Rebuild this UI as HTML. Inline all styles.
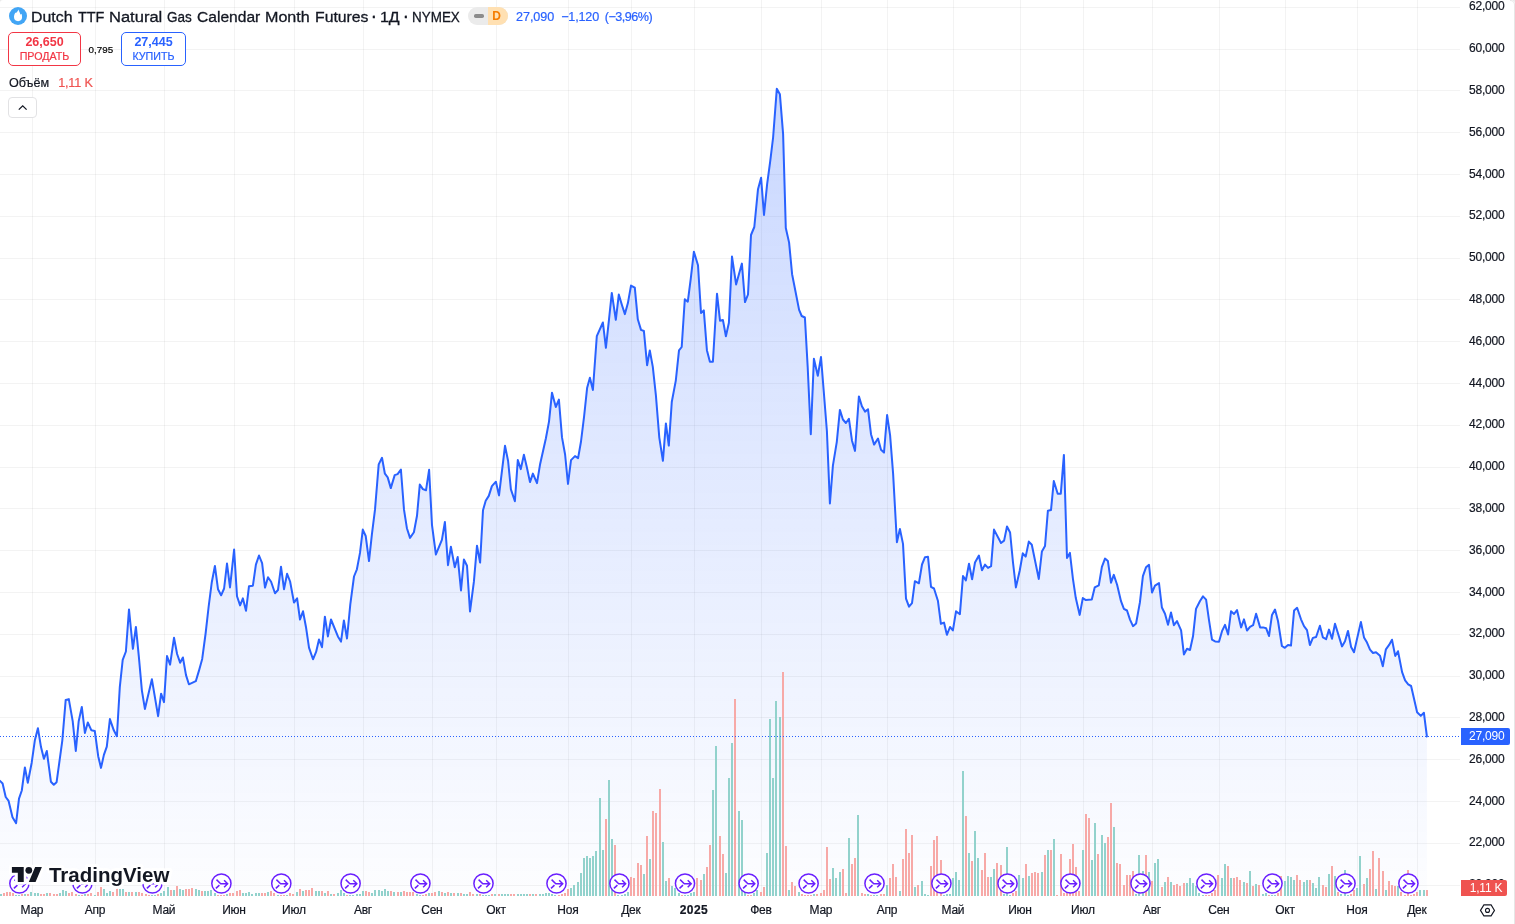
<!DOCTYPE html>
<html lang="ru"><head><meta charset="utf-8"><title>Dutch TTF Natural Gas Calendar Month Futures</title>
<style>
html,body{margin:0;padding:0;background:#fff;}
body{width:1515px;height:924px;position:relative;overflow:hidden;font-family:"Liberation Sans","DejaVu Sans",sans-serif;color:#131722;}
svg{position:absolute;left:0;top:0;}
svg text{font-family:"Liberation Sans","DejaVu Sans",sans-serif;}
#wrap{position:absolute;left:0;top:0;width:1515px;height:924px;will-change:transform;}
.abs{position:absolute;white-space:nowrap;}
.title span{position:absolute;top:0;transform-origin:0 0;}
.title{-webkit-text-stroke:0.3px #131722;left:0;top:7.8px;height:18px;line-height:18px;font-size:15.3px;color:#131722;}
.vals{-webkit-text-stroke:0.2px;top:8.3px;height:18px;line-height:18px;font-size:12.6px;color:#2962ff;}
.badge{left:468px;top:7px;width:40px;height:18px;border-radius:9px;overflow:hidden;background:#ebebeb;}
.badge i{position:absolute;left:6px;top:7.3px;width:10px;height:3.5px;border-radius:1.75px;background:#8c8c8c;}
.badge b{position:absolute;left:20px;top:0;width:20px;height:18px;background:#ffe0b2;color:#f57c00;font-size:12px;line-height:18px;text-align:center;font-weight:bold;text-indent:-3px;}
.btn{box-sizing:border-box;height:34px;border:1px solid;border-radius:5px;text-align:center;background:#fff;}
.btn span{display:block;}
.btn .p{font-size:12.5px;font-weight:bold;line-height:14px;margin-top:1.8px;}
.btn .l{-webkit-text-stroke:0.2px;font-size:10.7px;line-height:12px;margin-top:1.6px;}
.sell{left:8px;top:32px;width:73px;border-color:#f23645;color:#f23645;}
.buy{left:121px;top:32px;width:65px;border-color:#2962ff;color:#2962ff;}
.spread{-webkit-text-stroke:0.2px;left:88.6px;top:43.5px;font-size:9.8px;line-height:12px;color:#000;}
.vol{-webkit-text-stroke:0.2px;left:9px;top:74.8px;font-size:12.6px;line-height:16px;}
.vol em{font-style:normal;color:#ef5350;margin-left:9px;letter-spacing:-0.15px;}
.collapse{left:8px;top:97px;width:29px;height:21px;box-sizing:border-box;border:1px solid #e2e2e4;border-radius:4px;background:#fff;}
</style></head><body><div id="wrap">
<svg width="1515" height="924" viewBox="0 0 1515 924">
<defs>
<linearGradient id="ag" x1="0" y1="0" x2="0" y2="896" gradientUnits="userSpaceOnUse">
<stop offset="0" stop-color="#2962ff" stop-opacity="0.28"/><stop offset="1" stop-color="#2962ff" stop-opacity="0.01"/></linearGradient>
<g id="ro"><circle r="9.6" fill="#fff" stroke="#6a1fff" stroke-width="1.5"/>
<path d="M-4.9 -3.9L-0.7 0.2H6M2.7 -3.2L6.2 0.2L2.7 3.7" fill="none" stroke="#6a1fff" stroke-width="1.5"/>
<path d="M-2 1.6L-5.5 4.9" fill="none" stroke="#6a1fff" stroke-width="1.5"/></g>
</defs>
<path d="M0 7.5H1460M0 49.5H1460M0 90.5H1460M0 132.5H1460M0 174.5H1460M0 216.5H1460M0 258.5H1460M0 299.5H1460M0 341.5H1460M0 383.5H1460M0 425.5H1460M0 467.5H1460M0 508.5H1460M0 550.5H1460M0 592.5H1460M0 634.5H1460M0 676.5H1460M0 717.5H1460M0 759.5H1460M0 801.5H1460M0 843.5H1460M0 885.5H1460" stroke="#000" stroke-opacity="0.047" stroke-width="1" fill="none"/>
<path d="M32.5 0V896M95.5 0V896M164.5 0V896M234.5 0V896M294.5 0V896M363.5 0V896M432.5 0V896M496.5 0V896M568.5 0V896M631.5 0V896M694.5 0V896M761.5 0V896M821.5 0V896M887.5 0V896M953.5 0V896M1020.5 0V896M1083.5 0V896M1152.5 0V896M1219.5 0V896M1285.5 0V896M1357.5 0V896M1417.5 0V896" stroke="#000" stroke-opacity="0.047" stroke-width="1" fill="none"/>
<path d="M0 780.9 L2.6 783.5 L5.7 797 L8.6 800.9 L12.5 817.3 L16.1 823.2 L19 798.6 L21.8 790.5 L24.9 767.4 L27.8 782.7 L31.7 762.7 L34.8 740.6 L37.9 728.2 L41 747.1 L43.9 758.8 L46.8 751 L50.9 781.7 L53.8 784.8 L56.6 782.2 L62.3 740.6 L65.7 699.9 L68.8 699.1 L72.7 721.2 L75.8 751 L78.7 721.2 L81.8 706.9 L84.9 732.9 L87.8 722.5 L91.4 730.3 L94.8 731 L98.2 756.2 L101 767.9 L103.9 754.9 L106.8 746.6 L109.9 719.1 L113.8 730.3 L116.9 736.2 L119.8 687.1 L122.7 659.9 L125.9 651.5 L129 609.4 L132.9 648.8 L135.9 626.9 L138.8 656.1 L141.9 690.6 L144.9 708.9 L151.9 679.3 L158.1 716.2 L161.1 693.7 L164 702.1 L167 656.1 L170.1 664.6 L174 637.8 L177.1 654 L180.1 662.7 L182.9 657.5 L186 675.1 L188.9 684.3 L195.8 681.2 L198.9 670.9 L202.2 658.9 L205.6 633.5 L208.6 607 L211.8 582.2 L214.9 566 L218 589.2 L221.1 595.3 L224.1 588.5 L227 563.5 L230 587.4 L234.1 549.6 L237 596.3 L240.1 605.4 L242.9 598.4 L246 610.8 L249 586.2 L252.9 585.7 L255.9 564.6 L259 555.5 L262.1 563.2 L265 587.6 L268 577.3 L271.1 581.8 L275 593.2 L278 590 L281 566.7 L284 589.2 L287.1 573.8 L290.1 581.5 L294 602.6 L297.1 598.4 L300 619.5 L303 611.3 L306 627.2 L309 647.6 L313 659.3 L316.1 651.9 L319 639.5 L322 647.2 L324.9 616.7 L327.9 636.4 L331 619.5 L337.9 636.4 L341 641.6 L343.9 620.5 L347 638.5 L350.3 604.3 L354 576.5 L356.9 569.3 L360 552.9 L362.8 529.6 L365.7 536 L369 561.1 L371.9 534.4 L375 509.7 L378.7 464.4 L382 457.8 L384.9 473.7 L387.7 477.4 L390.8 488.1 L394.7 475.1 L397.6 474.1 L400.9 469.5 L404 509.7 L406.9 528.2 L410 537.9 L413.9 532.3 L417 515.8 L419.8 484.6 L422.9 489.1 L426 490.3 L429.1 469.8 L432 525.1 L435.9 554.5 L438.8 547.3 L441.9 539.9 L444.9 522 L448 565.2 L450.9 546.7 L454.8 567.3 L457.7 557 L461 590.5 L463.9 559.5 L467 565.8 L470 611.5 L473.9 581.7 L477 545.7 L480.1 562.6 L483 510.3 L485.7 500.7 L488.8 495.9 L491.9 486.1 L495.9 481.7 L499 495.4 L505 445.8 L508.1 461 L510.9 489.4 L514.9 501.2 L517.8 460.1 L520.8 469.1 L523.9 454.8 L526.9 467.5 L530 482.1 L532.9 473.6 L537 483.2 L540.1 464.2 L545.9 438.2 L549 421.6 L552 392.7 L555.8 407 L558.9 399.6 L562 437.4 L565.1 454.5 L568 484 L571 460.1 L575 456.1 L578.1 458.2 L581 441.5 L584.1 416.3 L587.1 388.1 L589.9 377.7 L592.9 390 L596.8 336.2 L602.9 322.5 L605.9 347.8 L608.9 320.4 L611.8 292.9 L615.8 319.8 L618.8 294.6 L622 305.2 L624.9 314.1 L627.9 303.1 L631 285.6 L634.8 287.7 L637.8 319.3 L641 329.9 L643.9 331 L647.1 365.2 L649.8 350.4 L652.8 366.9 L655.9 395.4 L659.3 437.6 L662.9 460.8 L665.9 423.4 L668.8 445.6 L671.8 401.7 L675.8 380.6 L679 350.4 L681.7 347 L684.8 299.3 L687.8 301.7 L690.8 278.3 L693.9 251.7 L698 265.3 L701 313 L703.8 310.4 L706.9 350.2 L709.9 361.7 L712.9 361.7 L717 293.7 L720 320.7 L722.9 319.9 L725.9 336.3 L728.9 322.7 L732 256.6 L736.1 284.4 L741.9 263.6 L745 302.1 L748 294.5 L751 235 L754.3 227 L758 189.2 L761.1 177.8 L764 215 L767.1 184.3 L770.2 161.4 L773.1 137.5 L776.8 88.8 L779.9 94.3 L783.1 133.9 L785.8 228 L789.1 242.6 L792.1 274.2 L799.1 309.9 L801.7 316 L804.9 317.5 L807.7 367.3 L810.8 434.2 L813.9 358.7 L817.8 375.8 L821 357 L823.8 392 L826.9 431 L829.9 503.5 L832.9 465.6 L836.8 441.8 L839.9 409.9 L842.9 419.5 L845.9 423 L848.9 418.7 L852 440.7 L855 450.9 L858.9 396.4 L861.9 406.2 L865 411.6 L868 409.2 L871 434.2 L874.1 444.6 L878 438.5 L881 449.8 L884 452.6 L887.1 415 L890.1 435.3 L893.1 473.6 L896.9 542.2 L899.9 528.9 L903 543.9 L906 598.6 L909 606.7 L912 603.1 L914.9 581.2 L918.9 583.3 L922 564.5 L925 557.2 L928 556.8 L931 586.9 L934 588.5 L937.9 600.7 L940.9 623.8 L944 622.6 L946.9 634.8 L950 627 L952.9 630.4 L956 611.3 L959.9 614.2 L963 576 L965.9 580.4 L969 563.8 L972.1 579.3 L975 562.5 L978.9 555.5 L982 570.2 L985 564.6 L988 567.9 L991.1 566.1 L994 529.6 L1001 543 L1004.1 540.6 L1007 526.5 L1010.1 532.5 L1013 562.5 L1015.9 587.4 L1019.7 570.7 L1022.8 553.3 L1025.7 556.6 L1028.8 541.6 L1031.8 544.7 L1038.8 579 L1041.9 551.4 L1045 546.1 L1047.9 510.7 L1051 510.1 L1053.8 481 L1057.7 493.7 L1060.8 493.7 L1063.9 454.9 L1067 558 L1069.9 552.9 L1072.9 578.6 L1075.8 598.1 L1079.7 614.9 L1082.8 598.1 L1085.9 600.1 L1091.8 599.5 L1094.7 587.4 L1098.8 585.3 L1101.9 566.8 L1105 558.6 L1107.9 561.1 L1111 582.7 L1113.8 574.9 L1117.1 584.7 L1121 601.2 L1123.9 608.8 L1127 610.5 L1130 619.6 L1133 626.2 L1136.1 623.5 L1139.9 602.4 L1142.9 576.2 L1146 567.3 L1149 564.9 L1152 592.5 L1155 585.7 L1159 583.1 L1161.9 607.5 L1165 613.7 L1168 624.8 L1171 612.5 L1173.9 625.2 L1177 621.1 L1181.1 630.4 L1183.9 654.4 L1187 648.8 L1190 650 L1193 636.3 L1196 608.9 L1200 601 L1203 596.4 L1206.1 599.6 L1209 620.2 L1212 639.6 L1215.1 641.4 L1219 641.7 L1222 631.2 L1225 624.8 L1228.1 634.5 L1231 611.3 L1234 614 L1237 610.1 L1241.1 627.4 L1244 619.4 L1247 630.6 L1250 626.8 L1253.1 625.2 L1256.1 613.7 L1260.1 627.4 L1263.1 627.4 L1266.1 628.2 L1269 636 L1272 614.9 L1275 609.6 L1278 621 L1281.9 646 L1284.8 647.8 L1288 645.1 L1291 645.5 L1294.1 610.4 L1297.1 607.8 L1301 619.3 L1304 626.2 L1307 630.1 L1309.9 645 L1312.9 637.9 L1316.1 637 L1319.9 625.7 L1322.9 637.4 L1326.1 639.2 L1329 629.6 L1332 638.7 L1335 623.8 L1342 646.4 L1345 641.3 L1348 630.9 L1351.1 647 L1354 652.2 L1360.9 621.9 L1364 637.4 L1367 642.6 L1370 649.7 L1373 653 L1376 652.3 L1380 655.8 L1382.8 666.3 L1385.9 649.3 L1389.1 644.9 L1392 639.7 L1395.2 655.9 L1398 651.2 L1402.1 672.1 L1405.1 680.4 L1408.2 684.4 L1411.1 686 L1417.1 712.2 L1420.8 715.9 L1423.9 712.8 L1426.9 736.5 L1426.9 896 L0 896Z" fill="url(#ag)"/>
<path d="M0 894h2v2h-2zM15 895h2v1h-2zM18 895h2v1h-2zM24 894h2v2h-2zM30 892h2v4h-2zM34 893h2v3h-2zM37 893h2v3h-2zM46 893h2v3h-2zM59 893h2v3h-2zM62 890h2v6h-2zM65 891h2v5h-2zM78 895h2v1h-2zM84 894h2v2h-2zM94 895h2v1h-2zM103 889h2v7h-2zM106 893h2v3h-2zM109 891h2v5h-2zM119 889h2v7h-2zM122 889h2v7h-2zM128 892h2v4h-2zM135 892h2v4h-2zM151 895h2v1h-2zM154 895h2v1h-2zM160 893h2v3h-2zM163 891h2v5h-2zM167 887h2v9h-2zM173 890h2v6h-2zM179 889h2v7h-2zM182 890h2v6h-2zM195 889h2v7h-2zM198 890h2v6h-2zM204 891h2v5h-2zM207 891h2v5h-2zM210 890h2v6h-2zM214 893h2v3h-2zM226 894h2v2h-2zM242 893h2v3h-2zM245 893h2v3h-2zM248 892h2v4h-2zM251 894h2v2h-2zM255 893h2v3h-2zM258 893h2v3h-2zM267 892h2v4h-2zM277 895h2v1h-2zM286 895h2v1h-2zM296 892h2v4h-2zM302 891h2v5h-2zM315 891h2v5h-2zM318 891h2v5h-2zM324 893h2v3h-2zM330 894h2v2h-2zM337 893h2v3h-2zM340 890h2v6h-2zM343 893h2v3h-2zM349 895h2v1h-2zM352 895h2v1h-2zM356 894h2v2h-2zM359 894h2v2h-2zM362 891h2v5h-2zM371 893h2v3h-2zM374 890h2v6h-2zM378 890h2v6h-2zM381 891h2v5h-2zM384 889h2v7h-2zM387 891h2v5h-2zM393 892h2v4h-2zM400 892h2v4h-2zM416 894h2v2h-2zM419 895h2v1h-2zM428 893h2v3h-2zM438 891h2v5h-2zM444 893h2v3h-2zM450 893h2v3h-2zM457 893h2v3h-2zM463 894h2v2h-2zM466 894h2v2h-2zM476 894h2v2h-2zM482 895h2v1h-2zM485 895h2v1h-2zM488 895h2v1h-2zM494 894h2v2h-2zM501 894h2v2h-2zM504 894h2v2h-2zM507 894h2v2h-2zM517 894h2v2h-2zM520 894h2v2h-2zM523 894h2v2h-2zM526 894h2v2h-2zM532 894h2v2h-2zM539 894h2v2h-2zM542 894h2v2h-2zM545 893h2v3h-2zM548 893h2v3h-2zM551 894h2v2h-2zM554 895h2v1h-2zM570 888h2v8h-2zM573 885h2v11h-2zM577 882h2v14h-2zM580 873h2v23h-2zM583 858h2v38h-2zM586 856h2v40h-2zM589 858h2v38h-2zM592 856h2v40h-2zM595 851h2v45h-2zM599 798h2v98h-2zM602 850h2v46h-2zM608 780h2v116h-2zM611 839h2v57h-2zM617 895h2v1h-2zM621 895h2v1h-2zM624 894h2v2h-2zM627 892h2v4h-2zM643 874h2v22h-2zM649 859h2v37h-2zM662 842h2v54h-2zM665 881h2v15h-2zM671 886h2v10h-2zM674 888h2v8h-2zM678 893h2v3h-2zM684 895h2v1h-2zM687 895h2v1h-2zM690 893h2v3h-2zM693 892h2v4h-2zM703 874h2v22h-2zM712 790h2v106h-2zM715 746h2v150h-2zM725 873h2v23h-2zM728 778h2v118h-2zM731 743h2v153h-2zM738 811h2v85h-2zM741 820h2v76h-2zM744 892h2v4h-2zM753 893h2v3h-2zM756 890h2v6h-2zM766 853h2v43h-2zM769 719h2v177h-2zM772 778h2v118h-2zM775 701h2v195h-2zM779 717h2v179h-2zM788 890h2v6h-2zM798 892h2v4h-2zM813 894h2v2h-2zM832 868h2v28h-2zM835 878h2v18h-2zM839 872h2v24h-2zM848 838h2v58h-2zM857 815h2v81h-2zM867 894h2v2h-2zM873 895h2v1h-2zM876 895h2v1h-2zM886 885h2v11h-2zM899 891h2v5h-2zM914 887h2v9h-2zM921 881h2v15h-2zM924 894h2v2h-2zM927 895h2v1h-2zM943 895h2v1h-2zM946 894h2v2h-2zM949 894h2v2h-2zM952 878h2v18h-2zM955 872h2v24h-2zM958 880h2v16h-2zM962 771h2v125h-2zM968 853h2v43h-2zM974 831h2v65h-2zM977 858h2v38h-2zM990 877h2v19h-2zM993 869h2v27h-2zM1003 894h2v2h-2zM1006 847h2v49h-2zM1009 895h2v1h-2zM1018 875h2v21h-2zM1022 878h2v18h-2zM1028 876h2v20h-2zM1041 872h2v24h-2zM1047 850h2v46h-2zM1053 839h2v57h-2zM1082 850h2v46h-2zM1091 860h2v36h-2zM1094 823h2v73h-2zM1101 835h2v61h-2zM1104 843h2v53h-2zM1113 827h2v69h-2zM1135 894h2v2h-2zM1138 855h2v41h-2zM1142 871h2v25h-2zM1148 872h2v24h-2zM1154 863h2v33h-2zM1157 859h2v37h-2zM1164 882h2v14h-2zM1170 882h2v14h-2zM1186 883h2v13h-2zM1189 878h2v18h-2zM1192 883h2v13h-2zM1195 886h2v10h-2zM1198 893h2v3h-2zM1202 895h2v1h-2zM1221 878h2v18h-2zM1224 864h2v32h-2zM1230 878h2v18h-2zM1243 882h2v14h-2zM1249 871h2v25h-2zM1255 884h2v12h-2zM1262 894h2v2h-2zM1265 893h2v3h-2zM1271 895h2v1h-2zM1274 895h2v1h-2zM1284 881h2v15h-2zM1287 876h2v20h-2zM1290 877h2v19h-2zM1293 880h2v16h-2zM1303 882h2v14h-2zM1306 880h2v16h-2zM1312 883h2v13h-2zM1315 888h2v8h-2zM1318 877h2v19h-2zM1328 874h2v22h-2zM1334 876h2v20h-2zM1340 894h2v2h-2zM1344 870h2v26h-2zM1347 895h2v1h-2zM1356 888h2v8h-2zM1359 856h2v40h-2zM1366 878h2v18h-2zM1375 889h2v7h-2zM1385 890h2v6h-2zM1397 886h2v10h-2zM1419 890h2v6h-2zM1423 890h2v6h-2z" fill="#92d2cc"/>
<path d="M3 893h2v3h-2zM6 892h2v4h-2zM9 892h2v4h-2zM12 893h2v3h-2zM21 894h2v2h-2zM27 894h2v2h-2zM40 894h2v2h-2zM43 894h2v2h-2zM49 893h2v3h-2zM53 894h2v2h-2zM56 894h2v2h-2zM68 893h2v3h-2zM71 892h2v4h-2zM75 894h2v2h-2zM81 895h2v1h-2zM87 894h2v2h-2zM90 893h2v3h-2zM97 892h2v4h-2zM100 887h2v9h-2zM112 892h2v4h-2zM116 888h2v8h-2zM125 892h2v4h-2zM131 892h2v4h-2zM138 892h2v4h-2zM141 893h2v3h-2zM145 894h2v2h-2zM148 895h2v1h-2zM157 894h2v2h-2zM170 890h2v6h-2zM176 886h2v10h-2zM185 889h2v7h-2zM188 889h2v7h-2zM191 888h2v8h-2zM201 891h2v5h-2zM217 895h2v1h-2zM220 895h2v1h-2zM223 895h2v1h-2zM229 893h2v3h-2zM232 893h2v3h-2zM236 891h2v5h-2zM239 890h2v6h-2zM261 893h2v3h-2zM264 893h2v3h-2zM270 891h2v5h-2zM273 893h2v3h-2zM280 895h2v1h-2zM283 895h2v1h-2zM289 893h2v3h-2zM292 894h2v2h-2zM299 889h2v7h-2zM305 890h2v6h-2zM308 890h2v6h-2zM311 888h2v8h-2zM321 891h2v5h-2zM327 891h2v5h-2zM333 894h2v2h-2zM346 895h2v1h-2zM365 891h2v5h-2zM368 892h2v4h-2zM390 891h2v5h-2zM397 892h2v4h-2zM403 891h2v5h-2zM406 892h2v4h-2zM409 892h2v4h-2zM412 892h2v4h-2zM422 895h2v1h-2zM425 894h2v2h-2zM431 893h2v3h-2zM434 892h2v4h-2zM441 892h2v4h-2zM447 892h2v4h-2zM453 893h2v3h-2zM460 893h2v3h-2zM469 892h2v4h-2zM472 894h2v2h-2zM479 894h2v2h-2zM491 894h2v2h-2zM498 894h2v2h-2zM510 894h2v2h-2zM513 894h2v2h-2zM529 894h2v2h-2zM535 894h2v2h-2zM558 895h2v1h-2zM561 894h2v2h-2zM564 893h2v3h-2zM567 889h2v7h-2zM605 819h2v77h-2zM614 845h2v51h-2zM630 877h2v19h-2zM633 878h2v18h-2zM637 863h2v33h-2zM640 865h2v31h-2zM646 836h2v60h-2zM652 811h2v85h-2zM655 813h2v83h-2zM659 789h2v107h-2zM668 878h2v18h-2zM681 895h2v1h-2zM696 878h2v18h-2zM700 880h2v16h-2zM706 867h2v29h-2zM709 845h2v51h-2zM719 836h2v60h-2zM722 854h2v42h-2zM734 699h2v197h-2zM747 895h2v1h-2zM750 895h2v1h-2zM760 892h2v4h-2zM763 887h2v9h-2zM782 672h2v224h-2zM785 846h2v50h-2zM791 882h2v14h-2zM794 886h2v10h-2zM801 894h2v2h-2zM804 895h2v1h-2zM807 895h2v1h-2zM810 895h2v1h-2zM816 894h2v2h-2zM820 893h2v3h-2zM823 890h2v6h-2zM826 847h2v49h-2zM829 879h2v17h-2zM842 869h2v27h-2zM845 893h2v3h-2zM851 864h2v32h-2zM854 858h2v38h-2zM861 893h2v3h-2zM864 894h2v2h-2zM870 895h2v1h-2zM880 894h2v2h-2zM883 894h2v2h-2zM889 878h2v18h-2zM892 864h2v32h-2zM895 877h2v19h-2zM902 859h2v37h-2zM905 829h2v67h-2zM908 853h2v43h-2zM911 835h2v61h-2zM917 885h2v11h-2zM930 866h2v30h-2zM933 840h2v56h-2zM936 836h2v60h-2zM940 860h2v36h-2zM965 816h2v80h-2zM971 861h2v35h-2zM981 870h2v26h-2zM984 853h2v43h-2zM987 877h2v19h-2zM996 863h2v33h-2zM1000 865h2v31h-2zM1012 893h2v3h-2zM1015 891h2v5h-2zM1025 864h2v32h-2zM1031 873h2v23h-2zM1034 872h2v24h-2zM1037 873h2v23h-2zM1044 855h2v41h-2zM1050 850h2v46h-2zM1056 895h2v1h-2zM1060 854h2v42h-2zM1063 893h2v3h-2zM1066 893h2v3h-2zM1069 859h2v37h-2zM1072 844h2v52h-2zM1075 867h2v29h-2zM1078 891h2v5h-2zM1085 814h2v82h-2zM1088 818h2v78h-2zM1097 854h2v42h-2zM1107 837h2v59h-2zM1110 803h2v93h-2zM1116 863h2v33h-2zM1119 864h2v32h-2zM1123 885h2v11h-2zM1126 875h2v21h-2zM1129 875h2v21h-2zM1132 871h2v25h-2zM1145 855h2v41h-2zM1151 881h2v15h-2zM1161 887h2v9h-2zM1167 877h2v19h-2zM1173 885h2v11h-2zM1176 884h2v12h-2zM1179 886h2v10h-2zM1183 883h2v13h-2zM1205 895h2v1h-2zM1208 895h2v1h-2zM1211 893h2v3h-2zM1214 890h2v6h-2zM1217 875h2v21h-2zM1227 866h2v30h-2zM1233 878h2v18h-2zM1236 877h2v19h-2zM1239 880h2v16h-2zM1246 883h2v13h-2zM1252 886h2v10h-2zM1258 885h2v11h-2zM1268 895h2v1h-2zM1277 893h2v3h-2zM1280 876h2v20h-2zM1296 875h2v21h-2zM1299 880h2v16h-2zM1309 880h2v16h-2zM1322 885h2v11h-2zM1325 887h2v9h-2zM1331 866h2v30h-2zM1337 892h2v4h-2zM1350 894h2v2h-2zM1353 890h2v6h-2zM1363 884h2v12h-2zM1369 869h2v27h-2zM1372 851h2v45h-2zM1378 858h2v38h-2zM1382 871h2v25h-2zM1388 881h2v15h-2zM1391 885h2v11h-2zM1394 886h2v10h-2zM1400 892h2v4h-2zM1404 895h2v1h-2zM1407 870h2v26h-2zM1410 895h2v1h-2zM1413 894h2v2h-2zM1416 892h2v4h-2zM1426 890h2v6h-2z" fill="#f7a9a7"/>
<path d="M0 780.9 L2.6 783.5 L5.7 797 L8.6 800.9 L12.5 817.3 L16.1 823.2 L19 798.6 L21.8 790.5 L24.9 767.4 L27.8 782.7 L31.7 762.7 L34.8 740.6 L37.9 728.2 L41 747.1 L43.9 758.8 L46.8 751 L50.9 781.7 L53.8 784.8 L56.6 782.2 L62.3 740.6 L65.7 699.9 L68.8 699.1 L72.7 721.2 L75.8 751 L78.7 721.2 L81.8 706.9 L84.9 732.9 L87.8 722.5 L91.4 730.3 L94.8 731 L98.2 756.2 L101 767.9 L103.9 754.9 L106.8 746.6 L109.9 719.1 L113.8 730.3 L116.9 736.2 L119.8 687.1 L122.7 659.9 L125.9 651.5 L129 609.4 L132.9 648.8 L135.9 626.9 L138.8 656.1 L141.9 690.6 L144.9 708.9 L151.9 679.3 L158.1 716.2 L161.1 693.7 L164 702.1 L167 656.1 L170.1 664.6 L174 637.8 L177.1 654 L180.1 662.7 L182.9 657.5 L186 675.1 L188.9 684.3 L195.8 681.2 L198.9 670.9 L202.2 658.9 L205.6 633.5 L208.6 607 L211.8 582.2 L214.9 566 L218 589.2 L221.1 595.3 L224.1 588.5 L227 563.5 L230 587.4 L234.1 549.6 L237 596.3 L240.1 605.4 L242.9 598.4 L246 610.8 L249 586.2 L252.9 585.7 L255.9 564.6 L259 555.5 L262.1 563.2 L265 587.6 L268 577.3 L271.1 581.8 L275 593.2 L278 590 L281 566.7 L284 589.2 L287.1 573.8 L290.1 581.5 L294 602.6 L297.1 598.4 L300 619.5 L303 611.3 L306 627.2 L309 647.6 L313 659.3 L316.1 651.9 L319 639.5 L322 647.2 L324.9 616.7 L327.9 636.4 L331 619.5 L337.9 636.4 L341 641.6 L343.9 620.5 L347 638.5 L350.3 604.3 L354 576.5 L356.9 569.3 L360 552.9 L362.8 529.6 L365.7 536 L369 561.1 L371.9 534.4 L375 509.7 L378.7 464.4 L382 457.8 L384.9 473.7 L387.7 477.4 L390.8 488.1 L394.7 475.1 L397.6 474.1 L400.9 469.5 L404 509.7 L406.9 528.2 L410 537.9 L413.9 532.3 L417 515.8 L419.8 484.6 L422.9 489.1 L426 490.3 L429.1 469.8 L432 525.1 L435.9 554.5 L438.8 547.3 L441.9 539.9 L444.9 522 L448 565.2 L450.9 546.7 L454.8 567.3 L457.7 557 L461 590.5 L463.9 559.5 L467 565.8 L470 611.5 L473.9 581.7 L477 545.7 L480.1 562.6 L483 510.3 L485.7 500.7 L488.8 495.9 L491.9 486.1 L495.9 481.7 L499 495.4 L505 445.8 L508.1 461 L510.9 489.4 L514.9 501.2 L517.8 460.1 L520.8 469.1 L523.9 454.8 L526.9 467.5 L530 482.1 L532.9 473.6 L537 483.2 L540.1 464.2 L545.9 438.2 L549 421.6 L552 392.7 L555.8 407 L558.9 399.6 L562 437.4 L565.1 454.5 L568 484 L571 460.1 L575 456.1 L578.1 458.2 L581 441.5 L584.1 416.3 L587.1 388.1 L589.9 377.7 L592.9 390 L596.8 336.2 L602.9 322.5 L605.9 347.8 L608.9 320.4 L611.8 292.9 L615.8 319.8 L618.8 294.6 L622 305.2 L624.9 314.1 L627.9 303.1 L631 285.6 L634.8 287.7 L637.8 319.3 L641 329.9 L643.9 331 L647.1 365.2 L649.8 350.4 L652.8 366.9 L655.9 395.4 L659.3 437.6 L662.9 460.8 L665.9 423.4 L668.8 445.6 L671.8 401.7 L675.8 380.6 L679 350.4 L681.7 347 L684.8 299.3 L687.8 301.7 L690.8 278.3 L693.9 251.7 L698 265.3 L701 313 L703.8 310.4 L706.9 350.2 L709.9 361.7 L712.9 361.7 L717 293.7 L720 320.7 L722.9 319.9 L725.9 336.3 L728.9 322.7 L732 256.6 L736.1 284.4 L741.9 263.6 L745 302.1 L748 294.5 L751 235 L754.3 227 L758 189.2 L761.1 177.8 L764 215 L767.1 184.3 L770.2 161.4 L773.1 137.5 L776.8 88.8 L779.9 94.3 L783.1 133.9 L785.8 228 L789.1 242.6 L792.1 274.2 L799.1 309.9 L801.7 316 L804.9 317.5 L807.7 367.3 L810.8 434.2 L813.9 358.7 L817.8 375.8 L821 357 L823.8 392 L826.9 431 L829.9 503.5 L832.9 465.6 L836.8 441.8 L839.9 409.9 L842.9 419.5 L845.9 423 L848.9 418.7 L852 440.7 L855 450.9 L858.9 396.4 L861.9 406.2 L865 411.6 L868 409.2 L871 434.2 L874.1 444.6 L878 438.5 L881 449.8 L884 452.6 L887.1 415 L890.1 435.3 L893.1 473.6 L896.9 542.2 L899.9 528.9 L903 543.9 L906 598.6 L909 606.7 L912 603.1 L914.9 581.2 L918.9 583.3 L922 564.5 L925 557.2 L928 556.8 L931 586.9 L934 588.5 L937.9 600.7 L940.9 623.8 L944 622.6 L946.9 634.8 L950 627 L952.9 630.4 L956 611.3 L959.9 614.2 L963 576 L965.9 580.4 L969 563.8 L972.1 579.3 L975 562.5 L978.9 555.5 L982 570.2 L985 564.6 L988 567.9 L991.1 566.1 L994 529.6 L1001 543 L1004.1 540.6 L1007 526.5 L1010.1 532.5 L1013 562.5 L1015.9 587.4 L1019.7 570.7 L1022.8 553.3 L1025.7 556.6 L1028.8 541.6 L1031.8 544.7 L1038.8 579 L1041.9 551.4 L1045 546.1 L1047.9 510.7 L1051 510.1 L1053.8 481 L1057.7 493.7 L1060.8 493.7 L1063.9 454.9 L1067 558 L1069.9 552.9 L1072.9 578.6 L1075.8 598.1 L1079.7 614.9 L1082.8 598.1 L1085.9 600.1 L1091.8 599.5 L1094.7 587.4 L1098.8 585.3 L1101.9 566.8 L1105 558.6 L1107.9 561.1 L1111 582.7 L1113.8 574.9 L1117.1 584.7 L1121 601.2 L1123.9 608.8 L1127 610.5 L1130 619.6 L1133 626.2 L1136.1 623.5 L1139.9 602.4 L1142.9 576.2 L1146 567.3 L1149 564.9 L1152 592.5 L1155 585.7 L1159 583.1 L1161.9 607.5 L1165 613.7 L1168 624.8 L1171 612.5 L1173.9 625.2 L1177 621.1 L1181.1 630.4 L1183.9 654.4 L1187 648.8 L1190 650 L1193 636.3 L1196 608.9 L1200 601 L1203 596.4 L1206.1 599.6 L1209 620.2 L1212 639.6 L1215.1 641.4 L1219 641.7 L1222 631.2 L1225 624.8 L1228.1 634.5 L1231 611.3 L1234 614 L1237 610.1 L1241.1 627.4 L1244 619.4 L1247 630.6 L1250 626.8 L1253.1 625.2 L1256.1 613.7 L1260.1 627.4 L1263.1 627.4 L1266.1 628.2 L1269 636 L1272 614.9 L1275 609.6 L1278 621 L1281.9 646 L1284.8 647.8 L1288 645.1 L1291 645.5 L1294.1 610.4 L1297.1 607.8 L1301 619.3 L1304 626.2 L1307 630.1 L1309.9 645 L1312.9 637.9 L1316.1 637 L1319.9 625.7 L1322.9 637.4 L1326.1 639.2 L1329 629.6 L1332 638.7 L1335 623.8 L1342 646.4 L1345 641.3 L1348 630.9 L1351.1 647 L1354 652.2 L1360.9 621.9 L1364 637.4 L1367 642.6 L1370 649.7 L1373 653 L1376 652.3 L1380 655.8 L1382.8 666.3 L1385.9 649.3 L1389.1 644.9 L1392 639.7 L1395.2 655.9 L1398 651.2 L1402.1 672.1 L1405.1 680.4 L1408.2 684.4 L1411.1 686 L1417.1 712.2 L1420.8 715.9 L1423.9 712.8 L1426.9 736.5" fill="none" stroke="#2962ff" stroke-width="2" stroke-linejoin="round" stroke-linecap="round"/>
<path d="M0 736.5H1460" stroke="#2962ff" stroke-width="1" stroke-dasharray="1 2"/>
<use href="#ro" x="19.4" y="883.5"/><use href="#ro" x="82.4" y="883.5"/><use href="#ro" x="152.4" y="883.5"/><use href="#ro" x="221.4" y="883.5"/><use href="#ro" x="281.3" y="883.5"/><use href="#ro" x="350.6" y="883.5"/><use href="#ro" x="420.4" y="883.5"/><use href="#ro" x="483.5" y="883.5"/><use href="#ro" x="556.5" y="883.5"/><use href="#ro" x="619.4" y="883.5"/><use href="#ro" x="685" y="883.5"/><use href="#ro" x="748.6" y="883.5"/><use href="#ro" x="808.6" y="883.5"/><use href="#ro" x="874.5" y="883.5"/><use href="#ro" x="941.4" y="883.5"/><use href="#ro" x="1007.5" y="883.5"/><use href="#ro" x="1070.4" y="883.5"/><use href="#ro" x="1140.5" y="883.5"/><use href="#ro" x="1206.4" y="883.5"/><use href="#ro" x="1272.5" y="883.5"/><use href="#ro" x="1345.5" y="883.5"/><use href="#ro" x="1408.4" y="883.5"/>
<g id="tvlogo">
<g stroke="#fff" stroke-width="6.5" stroke-linejoin="round" fill="#fff"><path transform="translate(11.9 863.5) scale(0.845)" d="M14 22H7V11H0V4h14v18zM28 22h-8l7.5-18h8L28 22z"/><circle cx="28.8" cy="870.3" r="3.4"/></g>
<path transform="translate(11.9 863.5) scale(0.845)" d="M14 22H7V11H0V4h14v18zM28 22h-8l7.5-18h8L28 22z" fill="#131722"/><circle cx="28.8" cy="870.3" r="3.4" fill="#131722"/>
<text x="48.9" y="881.7" font-size="20.6" font-weight="bold" fill="#131722" stroke="#fff" stroke-width="6" stroke-linejoin="round" paint-order="stroke" textLength="120.5" lengthAdjust="spacingAndGlyphs">TradingView</text>
</g>
<rect x="1460" y="0" width="55" height="924" fill="#fff"/>
<rect x="0" y="896" width="1515" height="28" fill="#fff"/>
<path d="M1510 0.5Q1514.5 0.5 1514.5 5V924" stroke="#e6e6e6" stroke-width="1" fill="none"/><path d="M1515 0h-4.5q4.5 0 4.5 4.5zM0 0h3q-3 0-3 3z" fill="#e9e9e9"/>
<g font-size="12" fill="#131722" stroke="#131722" stroke-width="0.2" text-anchor="middle" letter-spacing="-0.2"><text x="1486.8" y="10.3">62,000</text><text x="1486.8" y="52.1">60,000</text><text x="1486.8" y="93.9">58,000</text><text x="1486.8" y="135.7">56,000</text><text x="1486.8" y="177.5">54,000</text><text x="1486.8" y="219.3">52,000</text><text x="1486.8" y="261.1">50,000</text><text x="1486.8" y="302.9">48,000</text><text x="1486.8" y="344.7">46,000</text><text x="1486.8" y="386.5">44,000</text><text x="1486.8" y="428.3">42,000</text><text x="1486.8" y="470.1">40,000</text><text x="1486.8" y="511.9">38,000</text><text x="1486.8" y="553.7">36,000</text><text x="1486.8" y="595.5">34,000</text><text x="1486.8" y="637.3">32,000</text><text x="1486.8" y="679.1">30,000</text><text x="1486.8" y="720.9">28,000</text><text x="1486.8" y="762.7">26,000</text><text x="1486.8" y="804.5">24,000</text><text x="1486.8" y="846.3">22,000</text><text x="1486.8" y="888.1">20,000</text></g>
<g font-size="12" fill="#131722" stroke="#131722" stroke-width="0.2" text-anchor="middle" letter-spacing="-0.25"><text x="31.9" y="914">Мар</text><text x="94.9" y="914">Апр</text><text x="163.9" y="914">Май</text><text x="233.9" y="914">Июн</text><text x="293.9" y="914">Июл</text><text x="362.9" y="914">Авг</text><text x="431.9" y="914">Сен</text><text x="495.9" y="914">Окт</text><text x="567.9" y="914">Ноя</text><text x="630.9" y="914">Дек</text><text x="693.9" y="914" font-weight="bold" letter-spacing="0.45">2025</text><text x="760.9" y="914">Фев</text><text x="820.9" y="914">Мар</text><text x="886.9" y="914">Апр</text><text x="952.9" y="914">Май</text><text x="1019.9" y="914">Июн</text><text x="1082.9" y="914">Июл</text><text x="1151.9" y="914">Авг</text><text x="1218.9" y="914">Сен</text><text x="1284.9" y="914">Окт</text><text x="1356.9" y="914">Ноя</text><text x="1416.9" y="914">Дек</text></g>
<path d="M1461 728h47a2 2 0 0 1 2 2v13a2 2 0 0 1-2 2h-47z" fill="#2962ff"/>
<text x="1486.8" y="740.1" font-size="12" fill="#fff" text-anchor="middle" letter-spacing="-0.2">27,090</text>
<path d="M1461 880h44a2 2 0 0 1 2 2v12a2 2 0 0 1-2 2h-44z" fill="#ef5350"/>
<text x="1486" y="892" font-size="12" fill="#fff" text-anchor="middle" letter-spacing="-0.25">1,11 K</text>
<g fill="none" stroke="#131722" stroke-width="1.1"><path d="M1480.5 910.4l3.4-5.5h7.2l3.4 5.5l-3.4 5.5h-7.2z"/><circle cx="1487.5" cy="910.4" r="2"/></g>
<circle cx="18" cy="16" r="9" fill="#42a5f5"/>
<path d="M18.5 9.6C18.9 11 19.4 11.8 19.7 12.6C20 13.3 20.2 13.9 20.3 14.5C20.7 14.5 21.2 14.2 21.5 13.8C21.9 15 22.1 16 22.1 17.1A4.05 4.05 0 0 1 14 17.1C14 15.5 14.5 14 15.3 12.7C15.7 12.9 16.3 12.7 16.8 12.2C17.5 11.5 18.1 10.7 18.5 9.6Z" fill="#fff"/>
</svg>
<div class="abs title"><span style="left:30.86px;transform:scaleX(1.0379)">Dutch</span> <span style="left:77.56px;transform:scaleX(0.9431)">TTF</span> <span style="left:108.92px;transform:scaleX(1.08)">Natural</span> <span style="left:167.26px;transform:scaleX(0.8844)">Gas</span> <span style="left:197.39px;transform:scaleX(1.0195)">Calendar</span> <span style="left:265.25px;transform:scaleX(1.0528)">Month</span> <span style="left:314.67px;transform:scaleX(1.0317)">Futures</span> <span style="left:371.72px;transform:scaleX(0.88)"><b>·</b></span> <span style="left:380.26px;transform:scaleX(1.0423)">1Д</span> <span style="left:403.52px;transform:scaleX(0.88)"><b>·</b></span> <span style="left:411.82px;transform:scaleX(0.8789)">NYMEX</span></div>
<div class="abs badge"><i></i><b>D</b></div>
<div class="abs vals" style="left:516px;letter-spacing:-0.05px">27,090</div><div class="abs vals" style="left:561.2px;letter-spacing:-0.18px">−1,120</div><div class="abs vals" style="left:604.8px;letter-spacing:-0.5px">(−3,96%)</div>
<div class="abs btn sell"><span class="p">26,650</span><span class="l">ПРОДАТЬ</span></div>
<div class="abs spread">0,795</div>
<div class="abs btn buy"><span class="p">27,445</span><span class="l">КУПИТЬ</span></div>
<div class="abs vol">Объём<em>1,11 K</em></div>
<div class="abs collapse"><svg width="27" height="19" viewBox="0 0 27 19" style="position:static;display:block"><path d="M9.8 11.6L13.7 7.9L17.6 11.6" fill="none" stroke="#131722" stroke-width="1.3"/></svg></div>
</div></body></html>
